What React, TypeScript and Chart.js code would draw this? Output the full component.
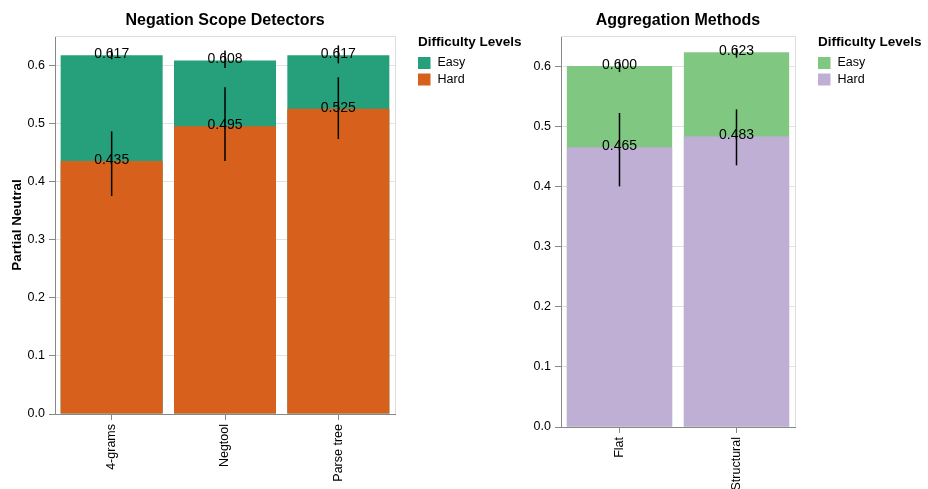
import React, { useEffect, useRef } from 'react';
import { Chart, registerables } from 'chart.js';

Chart.register(...registerables);

const FONT = "'Liberation Sans', Arial, Helvetica, sans-serif";

// ---- Data ----
const seriesLabels = ['Easy', 'Hard'];

const detectorCategories = ['4-grams', 'Negtool', 'Parse tree'];
const detectorEasy = [0.617, 0.608, 0.617];
const detectorHard = [0.435, 0.495, 0.525];
const detectorEasyLo = [0.61, 0.595, 0.603];
const detectorEasyHi = [0.626, 0.625, 0.634];
const detectorHardLo = [0.375, 0.435, 0.473];
const detectorHardHi = [0.486, 0.562, 0.579];

const aggregationCategories = ['Flat', 'Structural'];
const aggregationEasy = [0.6, 0.623];
const aggregationHard = [0.465, 0.483];
const aggregationEasyLo = [0.59, 0.614];
const aggregationEasyHi = [0.608, 0.63];
const aggregationHardLo = [0.4, 0.435];
const aggregationHardHi = [0.522, 0.528];

const yMax = 0.65;
const yStep = 0.1;

type PanelProps = {
  categories: string[];
  easy: number[];
  hard: number[];
  easyLo: number[];
  easyHi: number[];
  hardLo: number[];
  hardHi: number[];
  colors: [string, string];
  title: string;
  yTitle?: string;
  left: number;
  width: number;
  padRight: number;
  yWidth: number;
  xHeight: number;
  legendX: number;
};

function Panel(p: PanelProps) {
  const ref = useRef<HTMLCanvasElement | null>(null);
  useEffect(() => {
    if (!ref.current) return;
    const errLo = [p.easyLo, p.hardLo];
    const errHi = [p.easyHi, p.hardHi];
    const decor = {
      id: 'panelDecor',
      afterDraw(chart: any) {
        const { ctx, chartArea: ca, scales } = chart;
        const xs = scales.x;
        const ys = scales.y;
        ctx.save();
        // frame (top & right)
        ctx.strokeStyle = '#dddddd';
        ctx.lineWidth = 1;
        ctx.beginPath();
        ctx.moveTo(ca.left, Math.round(ca.top) + 0.5);
        ctx.lineTo(Math.round(ca.right) + 0.5, Math.round(ca.top) + 0.5);
        ctx.lineTo(Math.round(ca.right) + 0.5, ca.bottom);
        ctx.stroke();
        // title
        ctx.fillStyle = '#000';
        ctx.font = `bold 16px ${FONT}`;
        ctx.textAlign = 'center';
        ctx.textBaseline = 'middle';
        ctx.fillText(p.title, (ca.left + ca.right) / 2, 21);
        // error bars
        ctx.strokeStyle = '#000';
        ctx.lineWidth = 1.5;
        chart.data.datasets.forEach((ds: any, di: number) => {
          ds.data.forEach((_v: number, i: number) => {
            const px = xs.getPixelForValue(i);
            ctx.beginPath();
            ctx.moveTo(px, ys.getPixelForValue(errLo[di][i]));
            ctx.lineTo(px, ys.getPixelForValue(errHi[di][i]));
            ctx.stroke();
          });
        });
        // value labels
        ctx.font = `14px ${FONT}`;
        ctx.fillStyle = '#000';
        ctx.textAlign = 'center';
        ctx.textBaseline = 'middle';
        chart.data.datasets.forEach((ds: any) => {
          ds.data.forEach((v: number, i: number) => {
            const px = xs.getPixelForValue(i);
            ctx.fillText(v.toFixed(3), px, ys.getPixelForValue(v) - 1);
          });
        });
        // legend
        const lx = p.legendX;
        ctx.textAlign = 'left';
        ctx.font = `bold 13.5px ${FONT}`;
        ctx.fillText('Difficulty Levels', lx, 42);
        ctx.font = `12.5px ${FONT}`;
        chart.data.datasets.forEach((ds: any, di: number) => {
          const top = 57 + di * 16.5;
          ctx.fillStyle = ds.backgroundColor;
          ctx.fillRect(lx, top, 12.5, 12);
          ctx.fillStyle = '#000';
          ctx.fillText(ds.label, lx + 19.5, top + 6);
        });
        ctx.restore();
      },
    };

    const chart = new Chart(ref.current, {
      type: 'bar',
      data: {
        labels: p.categories,
        datasets: [
          {
            label: seriesLabels[0],
            data: p.easy,
            backgroundColor: p.colors[0],
            borderWidth: 0,
            order: 1,
          },
          {
            label: seriesLabels[1],
            data: p.hard,
            backgroundColor: p.colors[1],
            borderWidth: 0,
            order: 0,
          },
        ],
      },
      options: {
        responsive: false,
        animation: false,
        events: [],
        devicePixelRatio: 1,
        layout: { padding: { top: 36, right: p.padRight, bottom: 0, left: 0 } },
        datasets: { bar: { barPercentage: 0.9, categoryPercentage: 1 } },
        plugins: {
          legend: { display: false },
          title: { display: false },
          tooltip: { enabled: false },
        },
        scales: {
          x: {
            stacked: true,
            grid: {
              display: true,
              drawOnChartArea: false,
              drawTicks: true,
              tickLength: 6,
              tickColor: '#888888',
              offset: false,
            },
            border: { display: true, color: '#888888', width: 1 },
            ticks: {
              color: '#000',
              font: { family: FONT, size: 12.5 },
              padding: 4,
              maxRotation: 90,
              minRotation: 90,
              autoSkip: false,
            },
            afterFit: (axis: any) => {
              axis.height = p.xHeight;
            },
          },
          y: {
            stacked: false,
            min: 0,
            max: yMax,
            grid: {
              color: '#e2e2e2',
              tickColor: '#888888',
              tickLength: 6,
              drawTicks: true,
            },
            border: { display: true, color: '#888888', width: 1 },
            ticks: {
              stepSize: yStep,
              color: '#000',
              font: { family: FONT, size: 12.5 },
              padding: 4,
              callback: (v: any) => Number(v).toFixed(1),
            },
            title: p.yTitle
              ? {
                  display: true,
                  text: p.yTitle,
                  color: '#000',
                  font: { family: FONT, size: 13.5, weight: 'bold' },
                  padding: { top: 9, bottom: 0 },
                }
              : { display: false },
            afterBuildTicks: (axis: any) => {
              axis.ticks = axis.ticks.filter((t: any) => t.value <= 0.6 + 1e-9);
            },
            afterFit: (axis: any) => {
              axis.width = p.yWidth;
            },
          },
        },
      } as any,
      plugins: [decor],
    });
    return () => chart.destroy();
  }, []);

  return (
    <canvas
      ref={ref}
      width={p.width}
      height={489}
      style={{ position: 'absolute', left: p.left, top: 0, width: p.width, height: 489, display: 'block' }}
    />
  );
}

export default function App() {
  return (
    <div style={{ position: 'fixed', left: 0, top: 0, width: 928, height: 489, background: '#fff', overflow: 'hidden' }}>
      <Panel
        categories={aggregationCategories}
        easy={aggregationEasy}
        hard={aggregationHard}
        easyLo={aggregationEasyLo}
        easyHi={aggregationEasyHi}
        hardLo={aggregationHardLo}
        hardHi={aggregationHardHi}
        colors={['#80c882', '#bfafd5']}
        title="Aggregation Methods"
        left={510}
        width={418}
        padRight={133}
        yWidth={51}
        xHeight={62}
        legendX={308}
      />
      <Panel
        categories={detectorCategories}
        easy={detectorEasy}
        hard={detectorHard}
        easyLo={detectorEasyLo}
        easyHi={detectorEasyHi}
        hardLo={detectorHardLo}
        hardHi={detectorHardHi}
        colors={['#25a07b', '#d7601d']}
        title="Negation Scope Detectors"
        yTitle="Partial Neutral"
        left={0}
        width={540}
        padRight={145}
        yWidth={55}
        xHeight={75}
        legendX={418}
      />
    </div>
  );
}
